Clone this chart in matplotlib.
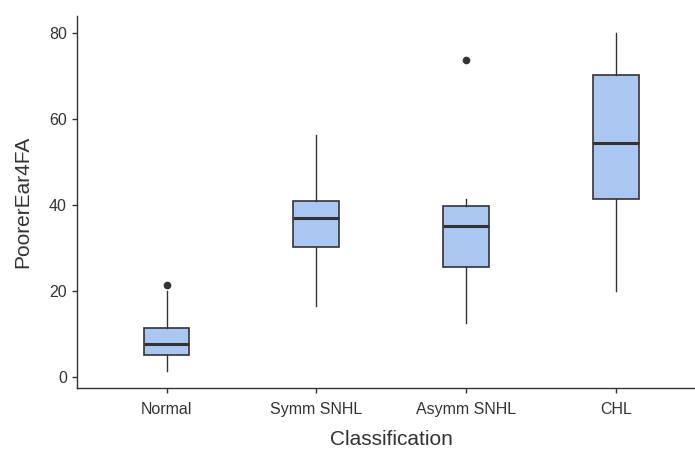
import matplotlib
matplotlib.use("Agg")
import matplotlib.pyplot as plt

categories = ["Normal", "Symm SNHL", "Asymm SNHL", "CHL"]
whislo = [1.4, 16.5, 12.6, 20.0]
q1 = [5.0, 30.3, 25.6, 41.3]
med = [7.5, 36.9, 35.0, 54.4]
q3 = [11.3, 40.9, 39.7, 70.3]
whishi = [19.9, 56.2, 41.3, 80.0]
fliers = [[21.3], [], [73.8], []]
yticks = [0, 20, 40, 60, 80]

plt.rcParams['font.family'] = ['Liberation Sans', 'DejaVu Sans']
dark = '#333333'
fill = '#AAC7F1'

fig = plt.figure(figsize=(6.95, 4.5), dpi=100)
ax = fig.add_axes([76.7/695, 62.3/450, (705.6-76.7)/695, (387.7-16)/450])

stats = []
for i, c in enumerate(categories):
    stats.append(dict(label=c, whislo=whislo[i], q1=q1[i], med=med[i],
                      q3=q3[i], whishi=whishi[i], fliers=fliers[i]))

positions = list(range(1, len(categories) + 1))
ax.bxp(stats, positions=positions, widths=0.305, patch_artist=True,
       showcaps=False,
       boxprops=dict(facecolor=fill, edgecolor=dark, linewidth=1.2),
       whiskerprops=dict(color=dark, linewidth=1.0),
       medianprops=dict(color=dark, linewidth=2.2, solid_capstyle='butt'),
       flierprops=dict(marker='o', markerfacecolor=dark, markeredgecolor=dark,
                       markersize=4.5, linestyle='none'))

ax.set_xlim(0.4, 4.6)
ax.set_ylim(-2.56, 83.96)
ax.set_yticks(yticks)
ax.set_xticks(positions)
ax.set_xticklabels(categories)

for s in ['top', 'right']:
    ax.spines[s].set_visible(False)
for s in ['left', 'bottom']:
    ax.spines[s].set_color(dark)
    ax.spines[s].set_linewidth(1.0)

ax.tick_params(axis='both', colors=dark, length=3.5, width=1.0,
               labelsize=11.5, labelcolor=dark)
ax.tick_params(axis='x', pad=6.5)
ax.tick_params(axis='y', pad=3.5)

ax.set_xlabel("Classification", fontsize=15, color=dark, labelpad=9.5)
ax.set_ylabel("PoorerEar4FA", fontsize=15, color=dark, labelpad=12)

fig.savefig("out.png", dpi=100)
